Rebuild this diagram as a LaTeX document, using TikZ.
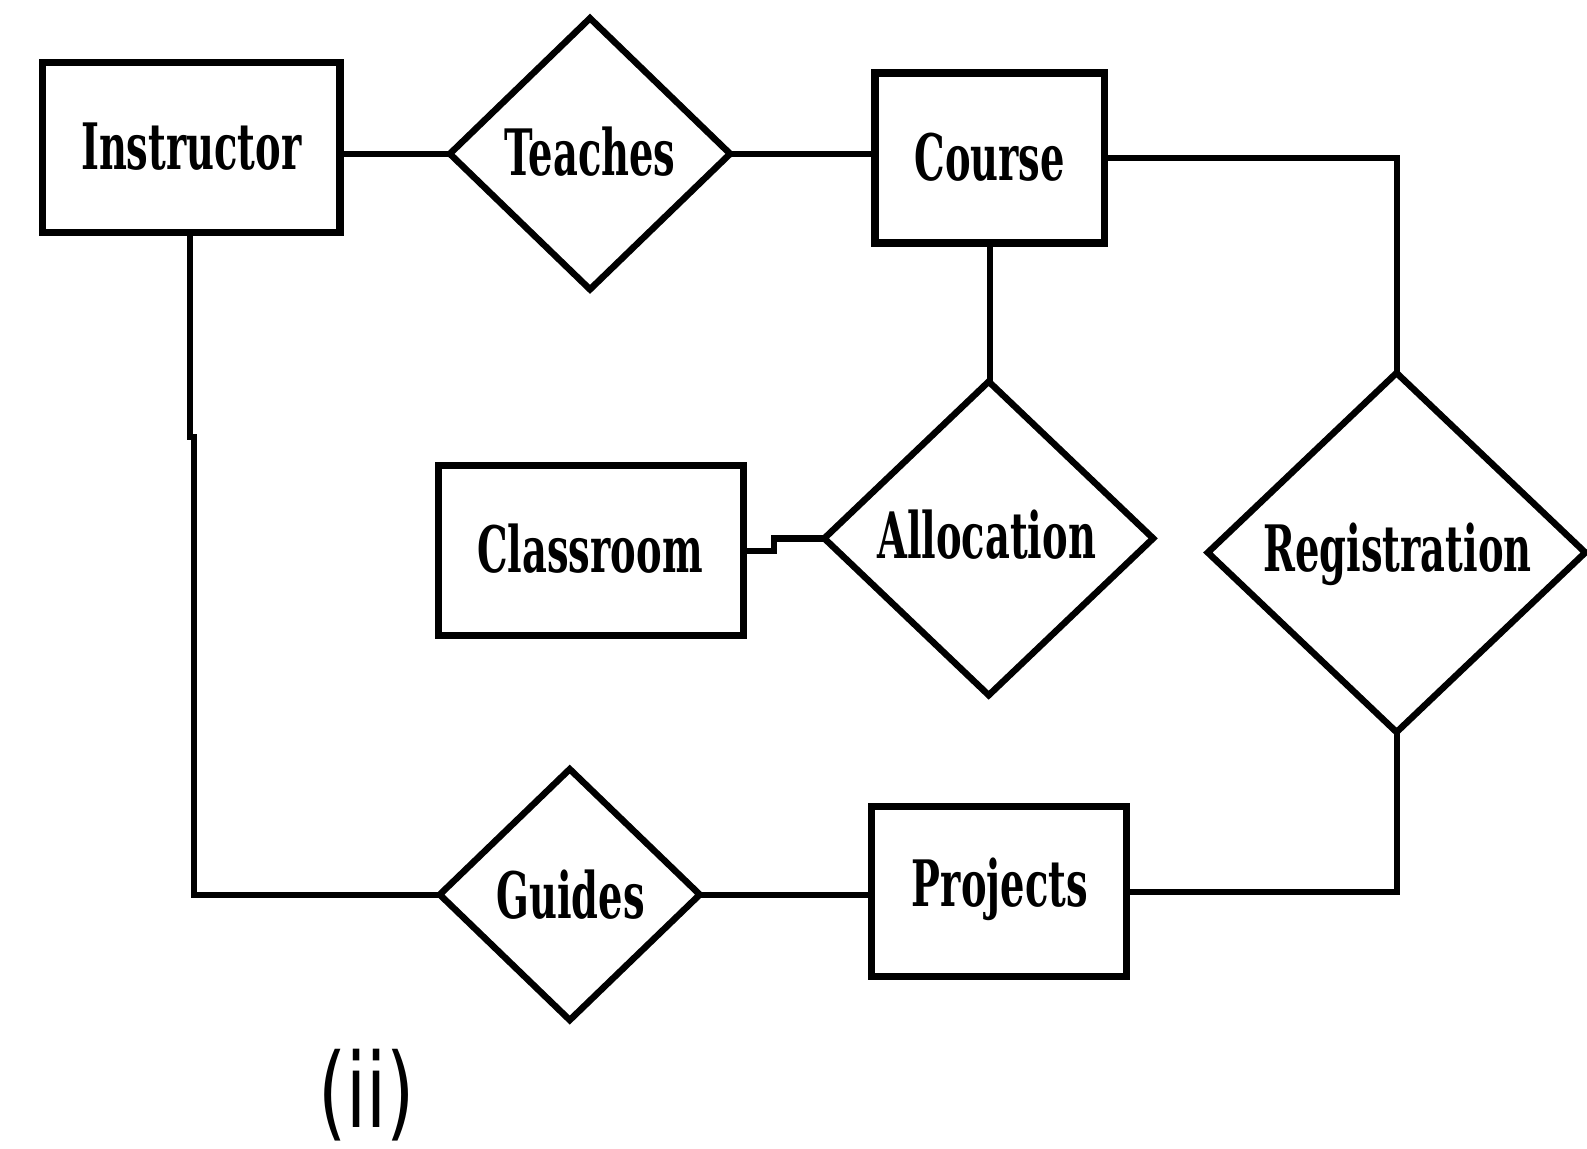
\documentclass[tikz,border=0pt]{standalone}
\usepackage{fontspec}
\usetikzlibrary{shapes.geometric}
\newfontfamily\erfont[FakeStretch=0.6]{DejaVu Serif}
\newfontfamily\capfont[FakeStretch=0.7]{DejaVu Sans}
\begin{document}
\begin{tikzpicture}[x=0.02cm,y=-0.02cm,
  entity/.style={draw,line width=4.2pt,rectangle,minimum height=3.36cm,inner sep=0pt,outer sep=0pt},
  rel/.style={draw,line width=3.7pt,diamond,inner sep=0pt,outer sep=0pt},
  lab/.style={font=\erfont\bfseries\fontsize{36}{40}\selectfont},
  conn/.style={line width=3.5pt}]
\useasboundingbox (0,0) rectangle (1587,1149);
\begin{scope}[scale=1.012,transform shape]
% entities
\node[entity,minimum width=5.88cm] (Instructor) at (189,146) {};
\node[lab] at (189,145) {Instructor};
\node[entity,minimum width=4.54cm] (Course) at (978,156) {};
\node[lab] at (978,155) {Course};
\node[entity,minimum width=6.02cm] (Classroom) at (584,544) {};
\node[lab] at (583,542) {Classroom};
\node[entity,minimum width=5.04cm] (Projects) at (987,881) {};
\node[lab] at (988,879) {Projects};
% relationships
\node[rel,minimum width=5.54cm,minimum height=5.36cm] (Teaches) at (583,152) {};
\node[lab] at (583,150) {Teaches};
\node[rel,minimum width=6.5cm,minimum height=6.2cm] (Allocation) at (977,532) {};
\node[lab] at (975,528) {Allocation};
\node[rel,minimum width=7.46cm,minimum height=7.1cm] (Registration) at (1380,546) {};
\node[lab] at (1381,548) {Registration};
\node[rel,minimum width=5.14cm,minimum height=4.96cm] (Guides) at (563,884) {};
\node[lab] at (564,884) {Guides};
% caption
\node[font=\capfont\fontsize{58}{60}\selectfont] (cap) at (362,1082) {(ii)};
% connectors
\draw[conn] (Instructor.east |- Teaches.west) -- (Teaches.west);
\draw[conn] (Teaches.east) -- (Teaches.east -| Course.west);
\draw[conn] (Course.east) -| (Registration.north);
\draw[conn] (Course.south) -- (Course.south |- Allocation.north);
\coordinate (aj) at (765,0);
\draw[conn] (Allocation.west) -- (aj |- Allocation.west) |- (Classroom.east);
\coordinate (ib) at (188,432);
\coordinate (ic) at (192,432);
\draw[conn] (Instructor.south -| ib) -- (ib) -- (ic) -- (ic |- Guides.west) -- (Guides.west);
\draw[conn] (Guides.east) -- (Guides.east -| Projects.west);
\draw[conn] (Projects.east) -| (Registration.south);
\end{scope}
\end{tikzpicture}
\end{document}
